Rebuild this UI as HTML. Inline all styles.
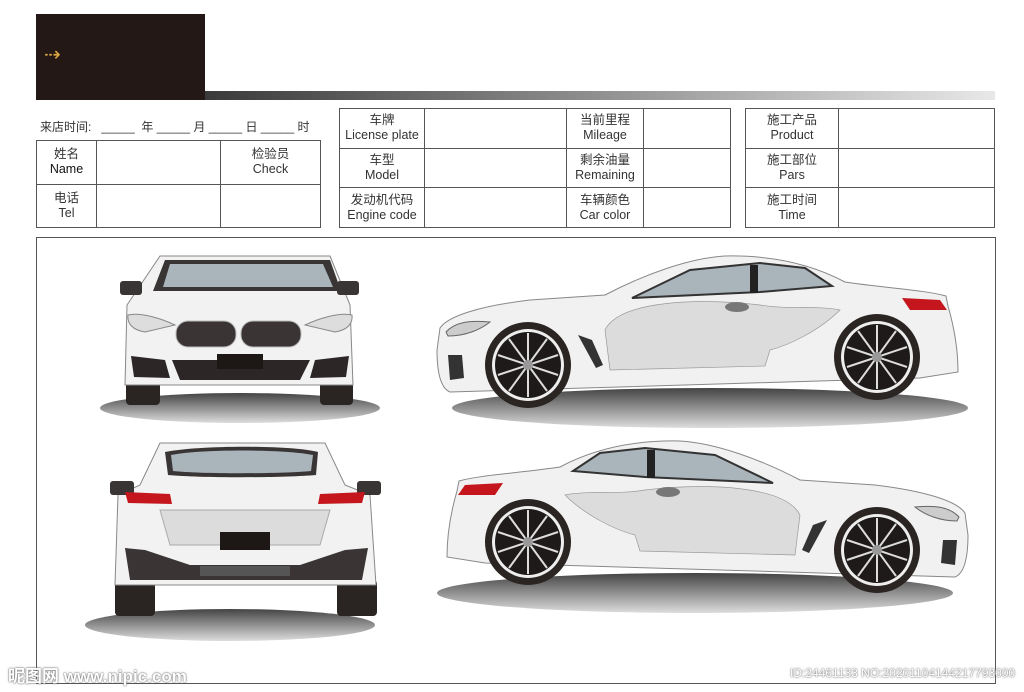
<!DOCTYPE html>
<html><head><meta charset="utf-8"><style>
body{margin:0;width:1024px;height:692px;background:#fff;position:relative;overflow:hidden;font-family:"Liberation Sans","Noto Sans CJK SC",sans-serif;color:#333}
.a{position:absolute}
table{position:absolute;border-collapse:collapse;table-layout:fixed}
td{border:1.3px solid #555;font-size:12.5px;text-align:center;line-height:15px;padding:0;color:#333}
</style></head><body>
<div class="a" style="left:36px;top:14px;width:169px;height:86px;background:#231815"></div>
<div class="a" style="left:44px;top:42px;color:#d9a441;font-size:20px;letter-spacing:-2px">⇢</div>
<div class="a" style="left:205px;top:91px;width:790px;height:9px;background:linear-gradient(90deg,#3a3a3a,#999 55%,#e8e8e8)"></div>
<div class="a" style="left:40px;top:118px;font-size:12px;white-space:nowrap">来店时间:&nbsp;&nbsp;&nbsp;_____&nbsp;&nbsp;年&nbsp;_____&nbsp;月&nbsp;_____&nbsp;日&nbsp;_____&nbsp;时</div>
<table style="left:36px;top:140px;width:283px;height:88px">
<tr><td style="width:59px">姓名<br><span style="color:#111">Name</span></td><td style="width:123px"></td><td style="width:99px">检验员<br>Check</td></tr>
<tr><td>电话<br>Tel</td><td></td><td></td></tr>
</table>
<table style="left:339px;top:108px;width:392px;height:120px">
<tr><td style="width:84px">车牌<br>License plate</td><td style="width:141px"></td><td style="width:76px">当前里程<br>Mileage</td><td></td></tr>
<tr><td>车型<br>Model</td><td></td><td>剩余油量<br>Remaining</td><td></td></tr>
<tr><td>发动机代码<br>Engine code</td><td></td><td>车辆颜色<br>Car color</td><td></td></tr>
</table>
<table style="left:745px;top:108px;width:250px;height:120px">
<tr><td style="width:92px">施工产品<br>Product</td><td></td></tr>
<tr><td>施工部位<br>Pars</td><td></td></tr>
<tr><td>施工时间<br>Time</td><td></td></tr>
</table>
<div class="a" style="left:36px;top:237px;width:958px;height:445px;border:1.3px solid #555"></div>
<svg class="a" style="left:0;top:0" width="1024" height="692">
<defs>
<linearGradient id="sh" x1="0" y1="0" x2="0" y2="1"><stop offset="0" stop-color="#444"/><stop offset="1" stop-color="#ddd"/></linearGradient>
<g id="wheel"><circle r="43" fill="#2a2422"/><circle r="36" fill="#eee"/><circle r="33" fill="#1e1a19"/>
<g stroke="#ddd" stroke-width="2"><line x1="0" y1="-32" x2="0" y2="32"/><line x1="-30" y1="-10" x2="30" y2="10"/><line x1="-30" y1="10" x2="30" y2="-10"/><line x1="-19" y1="-26" x2="19" y2="26"/><line x1="19" y1="-26" x2="-19" y2="26"/></g><circle r="5" fill="#999"/></g>
<g id="side">
<ellipse cx="710" cy="408" rx="258" ry="20" fill="url(#sh)"/>
<path d="M440,328 C448,316 480,306 530,300 L605,295 C645,274 690,258 725,256 C775,255 815,266 845,282 C885,288 925,290 946,296 L948,306 C955,330 958,350 958,372 L920,378 L450,392 C440,388 437,370 437,350 Z" fill="#f1f1f1" stroke="#888" stroke-width="1"/>
<path d="M605,330 C620,300 700,298 760,305 C790,310 815,305 840,310 C820,330 790,345 770,350 L765,366 L610,370 Z" fill="#dcdcdc" stroke="#999" stroke-width="0.7"/>
<path d="M632,298 L690,270 L760,263 L805,268 L832,286 L760,292 Z" fill="#a9b4bb" stroke="#333" stroke-width="2"/>
<rect x="750" y="265" width="8" height="28" fill="#222"/>
<ellipse cx="737" cy="307" rx="12" ry="5" fill="#777"/>
<path d="M902,298 L940,300 L947,310 L910,310 Z" fill="#c4161c"/>
<path d="M446,332 C455,322 470,320 490,322 C480,330 465,336 448,336 Z" fill="#ccc" stroke="#666"/>
<path d="M578,335 L592,340 L603,365 L596,368 Z" fill="#333"/>
<path d="M448,355 L462,355 L464,378 L450,380 Z" fill="#333"/>
<use href="#wheel" x="528" y="365"/><use href="#wheel" x="877" y="357"/>
</g>
</defs>
<use href="#side"/>
<use href="#side" transform="translate(1405,185) scale(-1,1)"/>
<ellipse cx="240" cy="408" rx="140" ry="15" fill="url(#sh)"/>
<rect x="126" y="375" width="34" height="30" rx="4" fill="#2a2422"/><rect x="320" y="375" width="33" height="30" rx="4" fill="#2a2422"/>
<path d="M160,256 L330,256 L350,305 L353,385 L125,385 L127,305 Z" fill="#f2f2f2" stroke="#888"/>
<path d="M153,291 L165,260 L330,260 L341,291 Z" fill="#3a3535"/><path d="M163,287 L170,264 L323,264 L333,287 Z" fill="#a9b4bb"/>
<rect x="120" y="281" width="22" height="14" rx="3" fill="#3a3535"/><rect x="337" y="281" width="22" height="14" rx="3" fill="#3a3535"/>
<path d="M128,315 C140,312 160,318 175,325 L145,332 C132,330 127,323 128,315Z" fill="#ddd" stroke="#888"/>
<path d="M352,315 C340,312 320,318 305,325 L335,332 C348,330 353,323 352,315Z" fill="#ddd" stroke="#888"/>
<rect x="176" y="321" width="60" height="26" rx="12" fill="#3a3434" stroke="#bbb"/><rect x="241" y="321" width="60" height="26" rx="12" fill="#3a3434" stroke="#bbb"/>
<path d="M172,360 L310,360 L300,380 L180,380 Z" fill="#2c2626"/><rect x="217" y="354" width="46" height="15" fill="#1d1716"/>
<path d="M131,356 L165,360 L170,378 L134,377 Z" fill="#2c2626"/><path d="M349,356 L315,360 L310,378 L346,377 Z" fill="#2c2626"/>
<ellipse cx="230" cy="625" rx="145" ry="16" fill="url(#sh)"/>
<rect x="115" y="580" width="40" height="36" rx="4" fill="#2a2422"/><rect x="337" y="580" width="40" height="36" rx="4" fill="#2a2422"/>
<path d="M160,443 L325,443 L345,485 L370,495 L376,585 L115,585 L118,495 L140,485 Z" fill="#f2f2f2" stroke="#888"/>
<path d="M165,452 C200,445 290,445 318,452 L316,475 C280,478 200,478 168,475 Z" fill="#3a3535"/><path d="M171,455 C200,449 285,449 313,455 L311,471 C280,474 200,474 173,471Z" fill="#a9b4bb"/>
<rect x="110" y="481" width="24" height="14" rx="3" fill="#3a3535"/><rect x="357" y="481" width="24" height="14" rx="3" fill="#3a3535"/>
<path d="M125,492 L170,494 L172,504 L128,503Z" fill="#c4161c"/><path d="M365,492 L320,494 L318,504 L362,503Z" fill="#c4161c"/>
<path d="M160,510 L330,510 L320,545 L170,545 Z" fill="#dcdcdc" stroke="#aaa"/>
<rect x="220" y="532" width="50" height="18" fill="#1d1716"/>
<path d="M125,548 L145,550 L190,565 L300,565 L345,550 L368,548 L362,580 L130,580 Z" fill="#3a3434"/>
<rect x="200" y="566" width="90" height="10" fill="#555"/>
</svg>
<div class="a" style="left:8px;top:662px;font-size:17px;color:#fff;font-weight:bold;text-shadow:0 0 2px #666,0 0 1px #666">昵图网 www.nipic.com</div>
<div class="a" style="left:790px;top:666px;font-size:12px;color:#fff;text-shadow:0 0 2px #777,0 0 1px #777">ID:24461133 NO:20201104144217793000</div>
</body></html>
